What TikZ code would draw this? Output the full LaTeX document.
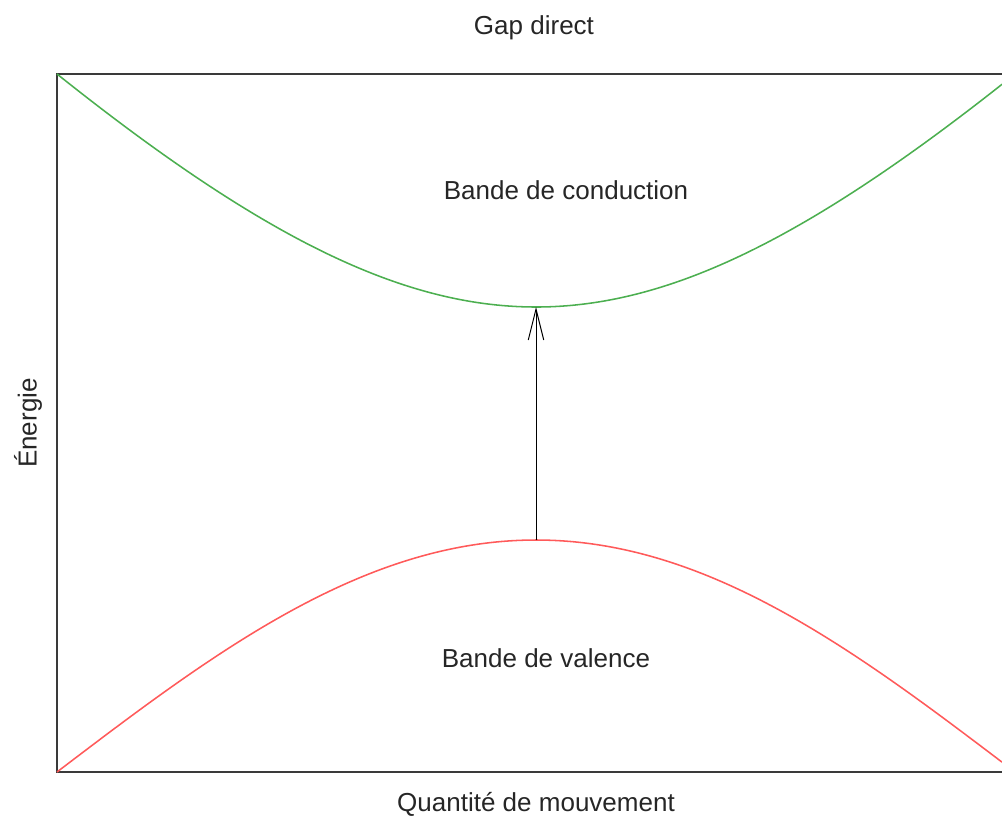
\documentclass[tikz,border=0pt]{standalone}
\usepackage{fontspec}
\setmainfont{Liberation Sans}
\usetikzlibrary{arrows.meta}
\definecolor{gapgreen}{HTML}{4CAF50}
\definecolor{gapred}{HTML}{FF5A5A}
\definecolor{gapframe}{HTML}{3A3A3A}

\begin{document}
\begin{tikzpicture}[
  x=0.025cm, y=-0.025cm,
  lbl/.style={font=\fontsize{18.5}{21}\selectfont, text=black!85, inner sep=0pt},
  band/.style={line width=1.1pt},
]
\useasboundingbox (0,0) rectangle (1002,817);
\clip (0,0) rectangle (1002,817);

% ---------------- frame ---------------------------------------------
\draw[gapframe, line width=1.5pt] (1040,74) -- (57,74) -- (57,772) -- (1040,772);

% ---------------- bands ---------------------------------------------
\draw[band, gapgreen] plot[domain=57:1002, samples=120, smooth]
  (\x, {307 - 416*(sqrt(1+((\x-536)/400)^2)-1)});
\draw[band, gapred] plot[domain=57:1002, samples=120, smooth]
  (\x, {772 - 232*sin(0.187891*(\x-57))});

\coordinate (vtop) at (536,540);
\coordinate (cbot) at (536,307);
\draw[-{Straight Barb[length=22pt, width=11pt, line width=0.7pt]}, line width=0.7pt]
  (vtop) -- (cbot);

% ---------------- labels --------------------------------------------
\node[lbl] (title) at (534,28) {Gap direct};
\node[lbl] (cond) at (566,190) {Bande de conduction};
\node[lbl] (val) at (546,658) {Bande de valence};
\node[lbl] (xlab) at (536,804) {Quantité de mouvement};
\node[lbl, rotate=90] (ylab) at (28,423) {Énergie};

\end{tikzpicture}
\end{document}
